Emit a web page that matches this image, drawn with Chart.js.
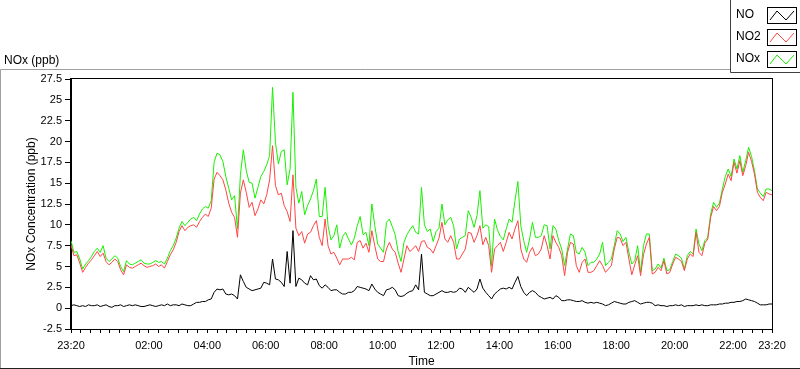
<!DOCTYPE html>
<html>
<head>
<meta charset="utf-8">
<script src="https://cdn.jsdelivr.net/npm/chart.js@4.4.1/dist/chart.umd.min.js"></script>
<style>
  html, body { margin: 0; padding: 0; background: #fff; }
  #wrap { position: relative; width: 800px; height: 369px; }
</style>
</head>
<body>
<div id="wrap"><canvas id="chart" width="800" height="369"></canvas></div>
<script>
// one reading every 6 minutes, starting 23:20
const stepMinutes = 6;

const no = [
  0.3,0.4,0.3,0.2,0.3,0.2,0.4,0.3,0.3,0.4, 0.2,0.3,0.4,0.2,0.1,0.3,0.3,0.4,0.2,0.3,
  0.4,0.3,0.4,0.3,0.2,0.2,0.3,0.4,0.3,0.2, 0.3,0.4,0.3,0.5,0.3,0.4,0.4,0.3,0.5,0.4,
  0.3,
  0.3,0.5,0.7,0.7,0.8,0.8,1.0,1.1,1.9,2.3, 2.2,2.3,1.7,1.6,1.7,1.5,1.1,4.0,3.2,2.5,
  2.3,2.1,2.2,2.3,2.4,3.1,3.0,2.8,5.9,3.5, 3.4,3.1,2.6,6.8,3.0,9.3,2.6,3.6,3.4,3.0,
  2.8,3.9,3.4,3.5,2.7,2.4,2.8,2.5,2.1,2.2, 2.2,1.9,1.7,1.7,1.9,1.9,2.1,2.6,2.5,2.4,
  2.3,2.1,2.9,2.3,1.9,1.7,1.5,2.2,2.3,2.5, 2.2,1.5,1.4,1.5,1.8,2.0,2.1,2.8,2.2,6.5,
  1.9,1.7,1.5,1.5,1.7,1.9,2.1,1.9,1.9,2.0, 1.9,2.0,2.4,2.3,1.9,2.5,2.2,1.9,2.3,3.5,
  2.4,1.9,1.5,1.1,1.7,2.0,2.3,2.4,2.3,2.5, 2.3,3.1,3.8,2.6,1.9,1.5,1.9,2.1,1.9,1.5,
  1.3,1.1,1.2,1.3,1.1,1.5,1.3,0.9,0.9,1.0, 1.0,0.9,0.8,0.8,0.9,0.7,0.6,0.7,0.6,0.7,
  0.6,0.5,0.3,0.4,0.6,0.8,0.7,0.6,0.5,0.5, 0.7,0.8,0.9,0.7,0.5,0.6,0.7,0.7,0.6,0.3,
  0.4,0.3,0.3,0.2,0.3,0.3,0.4,0.3,0.4,0.2, 0.3,0.3,0.3,0.4,0.3,0.4,0.3,0.3,0.4,0.4,
  0.4,0.5,0.5,0.6,0.6,0.7,0.7,0.8,0.8,0.9, 1.1,1.0,0.9,0.8,0.6,0.4,0.4,0.4,0.5,0.5
];

const no2 = [
  7.6,6.3,6.4,5.4,4.3,4.9,5.4,5.8,6.3,6.8, 6.2,6.6,5.6,5.2,5.5,5.9,5.6,4.6,4.0,5.2,
  4.9,4.8,5.0,5.2,5.4,5.1,4.9,5.0,5.1,5.3, 5.0,5.2,4.8,5.6,6.4,7.0,7.9,9.2,9.9,9.3,
  9.7,
  9.9,10.0,9.7,10.4,10.9,11.3,11.0,12.0,15.5,16.3, 15.9,15.4,14.2,12.6,11.5,10.9,8.5,13.8,15.4,13.9,
  12.1,12.7,11.1,11.9,13.0,12.5,13.6,15.4,19.5,14.7, 13.6,13.8,12.3,11.6,10.4,16.0,9.6,8.7,9.2,7.8,
  8.9,9.1,9.9,10.5,8.5,7.5,10.7,7.5,6.5,6.7, 6.0,5.2,5.9,5.9,5.9,6.1,5.8,7.9,8.1,7.2,
  7.8,6.7,9.3,7.5,5.9,5.6,5.6,7.1,7.9,7.1, 6.7,5.4,4.3,5.9,7.5,6.8,7.1,7.5,6.8,8.0,
  8.1,7.3,7.1,6.6,7.5,8.4,10.3,8.3,7.9,8.7, 7.9,5.9,5.9,6.5,7.1,9.1,9.0,7.9,8.7,9.9,
  7.6,8.5,7.5,4.3,7.1,7.5,7.9,6.8,7.9,9.1, 8.3,9.5,10.5,7.1,5.9,5.5,6.7,7.3,6.3,6.5,
  7.1,8.7,7.5,5.9,8.7,7.9,7.3,6.3,3.9,6.7, 7.9,7.7,5.1,4.3,5.5,5.9,4.3,4.3,4.5,5.1,
  5.7,5.1,4.3,4.7,5.1,7.1,8.5,8.4,7.5,7.9, 5.9,4.0,5.2,6.3,3.9,6.4,7.7,8.5,4.1,4.3,
  4.9,4.5,5.7,4.1,4.3,5.3,6.1,5.9,5.6,4.5, 5.9,6.5,6.2,9.1,6.7,6.3,7.8,8.3,10.9,12.2,
  11.7,12.2,13.9,14.9,16.1,15.3,17.5,16.2,17.7,15.9, 17.1,18.7,17.6,16.1,13.9,13.3,12.9,13.9,13.7,13.6
];

const nox = [
  8.1,6.7,6.8,5.9,4.7,5.3,5.7,6.2,6.8,7.2, 6.7,7.5,6.0,5.6,5.9,6.3,6.0,5.0,4.4,5.7,
  5.3,5.2,5.4,5.6,5.8,5.4,5.3,5.3,5.5,5.7, 5.5,5.6,5.3,6.0,6.9,7.5,8.4,9.6,10.4,9.9,
  10.3,
  10.7,10.9,10.5,11.3,11.9,12.2,12.0,12.9,17.5,18.6, 18.4,17.6,15.8,14.4,13.0,13.5,9.5,16.0,19.0,16.5,
  15.1,15.0,13.2,14.5,15.8,16.4,17.2,18.3,26.5,19.9, 17.3,18.8,19.0,14.8,16.7,25.9,14.5,12.6,14.0,11.2,
  12.3,13.1,14.1,15.5,11.0,11.0,14.5,9.9,8.2,8.7, 10.0,7.2,8.6,9.1,8.3,7.6,8.4,9.9,11.0,8.8,
  9.1,7.5,12.5,9.9,7.7,7.2,6.7,10.3,10.7,9.8, 8.8,6.8,5.6,7.9,8.8,9.4,9.9,9.1,8.9,14.5,
  10.0,9.2,9.5,8.0,9.2,9.6,12.5,10.0,10.6,10.9, 9.9,7.1,8.3,8.5,8.7,11.7,10.9,9.7,11.1,14.1,
  9.6,10.0,9.8,5.1,10.7,9.4,8.6,8.2,9.5,10.7, 10.3,12.9,15.2,9.9,8.1,6.7,8.3,10.3,8.5,8.5,
  8.7,10.0,9.9,7.1,9.9,9.5,8.1,7.1,5.1,7.1, 8.9,8.7,6.7,6.5,7.3,6.7,5.1,5.5,5.5,5.9,
  6.5,7.9,5.1,5.5,5.9,7.5,9.3,8.9,8.0,8.5, 6.7,5.3,5.7,7.5,4.3,7.5,8.9,8.9,4.5,4.7,
  5.3,4.8,6.0,4.5,4.6,5.6,6.5,6.3,6.0,4.7, 6.3,6.8,6.5,9.5,7.7,6.9,8.1,8.5,11.3,12.7,
  12.1,12.6,14.3,15.8,16.7,15.8,17.9,16.7,18.3,16.3, 17.7,19.3,18.2,16.5,14.3,13.8,13.4,14.3,14.3,14.1
];

// x axis: minutes since 23:20
const xTickValues = [0, 160, 280, 400, 520, 640, 760, 880, 1000, 1120, 1240, 1360, 1440];
const xTickLabels = ['23:20', '02:00', '04:00', '06:00', '08:00', '10:00', '12:00',
                     '14:00', '16:00', '18:00', '20:00', '22:00', '23:20'];
const yTicks = [-2.5, 0, 2.5, 5, 7.5, 10, 12.5, 15, 17.5, 20, 22.5, 25, 27.5];

const seriesNames = ['NO', 'NO2', 'NOx'];
const seriesColors = ['#000000', '#ff4444', '#18f000'];

const FONT = '"Liberation Sans", Arial, sans-serif';

const toPoints = arr => arr.map((v, i) => ({ x: i * stepMinutes, y: v }));

const frame = {
    id: 'frame',
    beforeDraw(chart) {
        const ctx = chart.ctx;
        ctx.save();
        // outer panel
        ctx.strokeStyle = '#a0a0a0';
        ctx.lineWidth = 1;
        ctx.beginPath();
        ctx.moveTo(0.5, 369);
        ctx.lineTo(0.5, 69.5);
        ctx.lineTo(730, 69.5);
        ctx.stroke();
        ctx.strokeStyle = '#202020';
        ctx.beginPath();
        ctx.moveTo(0, 368.5);
        ctx.lineTo(800, 368.5);
        ctx.stroke();

        ctx.fillStyle = '#000';
        ctx.font = '12px ' + FONT;
        ctx.textBaseline = 'alphabetic';
        ctx.textAlign = 'left';
        ctx.fillText('NOx (ppb)', 4, 64);
        ctx.restore();
    },
    afterDraw(chart) {
        const ctx = chart.ctx;
        const a = chart.chartArea;
        ctx.save();
        ctx.strokeStyle = '#000';
        ctx.lineWidth = 1;
        ctx.strokeRect(Math.round(a.left) - 0.5, Math.round(a.top) - 0.5,
                       Math.round(a.right - a.left) + 1, Math.round(a.bottom - a.top) + 1);

        // legend panel
        ctx.fillStyle = '#fff';
        ctx.fillRect(730, 0, 70, 72);
        ctx.strokeStyle = '#404040';
        ctx.beginPath();
        ctx.moveTo(730.5, 0);
        ctx.lineTo(730.5, 72.5);
        ctx.lineTo(800, 72.5);
        ctx.stroke();

        ctx.font = '12px ' + FONT;
        ctx.textAlign = 'left';
        ctx.textBaseline = 'alphabetic';
        seriesNames.forEach((name, i) => {
            const top = 7 + i * 22;
            ctx.fillStyle = '#000';
            ctx.fillText(name, 736, top + 11);
            ctx.strokeStyle = '#000';
            ctx.lineWidth = 1;
            ctx.strokeRect(767.5, top + 0.5, 29, 16);
            ctx.strokeStyle = seriesColors[i];
            ctx.beginPath();
            ctx.moveTo(770, top + 13);
            ctx.lineTo(777, top + 4);
            ctx.lineTo(786, top + 13);
            ctx.lineTo(794, top + 4);
            ctx.stroke();
        });
        ctx.restore();
    }
};

new Chart(document.getElementById('chart').getContext('2d'), {
    type: 'line',
    data: {
        datasets: [no, no2, nox].map((arr, i) => ({
            label: seriesNames[i],
            data: toPoints(arr),
            borderColor: seriesColors[i],
            borderWidth: 1,
            pointRadius: 0,
            tension: 0,
            fill: false
        }))
    },
    options: {
        responsive: false,
        animation: false,
        devicePixelRatio: 1,
        layout: { padding: { top: 79, right: 28, bottom: 0, left: 20 } },
        plugins: { legend: { display: false }, tooltip: { enabled: false } },
        scales: {
            x: {
                type: 'linear',
                min: 0,
                max: 1440,
                afterBuildTicks: scale => {
                    const t = [];
                    for (let m = 0; m <= 1440; m += 20) t.push({ value: m });
                    scale.ticks = t;
                },
                afterFit: scale => { scale.height = 40; },
                ticks: {
                    autoSkip: false,
                    maxRotation: 0,
                    padding: 6,
                    color: '#000',
                    font: { family: FONT, size: 11 },
                    callback: v => {
                        const k = xTickValues.indexOf(v);
                        return k >= 0 ? xTickLabels[k] : '';
                    }
                },
                grid: { drawOnChartArea: false, tickLength: 4, tickColor: '#000' },
                border: { color: '#000' },
                title: {
                    display: true, text: 'Time', color: '#000',
                    font: { family: FONT, size: 12 }, padding: { top: 0, bottom: 0 }
                }
            },
            y: {
                min: -2.5,
                max: 27.5,
                afterBuildTicks: scale => { scale.ticks = yTicks.map(v => ({ value: v })); },
                afterFit: scale => { scale.width = 51; },
                ticks: {
                    padding: 3,
                    color: '#000',
                    font: { family: FONT, size: 11 },
                    callback: v => String(v)
                },
                grid: { drawOnChartArea: false, tickLength: 6, tickColor: '#000' },
                border: { color: '#000' },
                title: {
                    display: true, text: 'NOx Concentration (ppb)', color: '#000',
                    font: { family: FONT, size: 12 }, padding: { top: 4, bottom: 0 }
                }
            }
        }
    },
    plugins: [frame]
});
</script>
</body>
</html>
